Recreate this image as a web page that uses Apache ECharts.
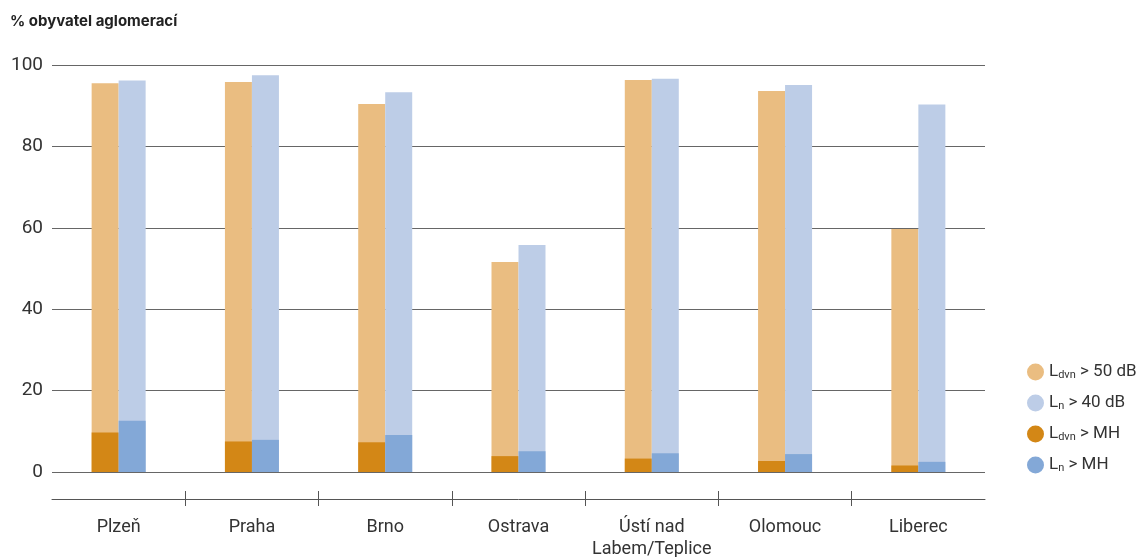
<!DOCTYPE html>
<html>
<head>
<meta charset="utf-8">
<script src="https://cdn.jsdelivr.net/npm/echarts@6/dist/echarts.min.js"></script>
<style>
  html, body { margin: 0; padding: 0; background: #fff; }
  #chart { width: 1146px; height: 557px; }
</style>
</head>
<body>
<div id="chart"></div>
<script>
// města (kategorie)
var categories = ['Plzeň', 'Praha', 'Brno', 'Ostrava', 'Ústí nad\nLabem/Teplice', 'Olomouc', 'Liberec'];
var legendNames = ['Ldvn > 50 dB', 'Ln > 40 dB', 'Ldvn > MH', 'Ln > MH'];
// % obyvatel
var ldvn50 = [95.5, 95.8, 90.4, 51.6, 96.3, 93.6, 59.7];
var ln40 = [96.2, 97.5, 93.3, 55.8, 96.6, 95.1, 90.3];
var ldvnMH = [9.7, 7.5, 7.3, 3.9, 3.3, 2.7, 1.6];
var lnMH = [12.6, 7.9, 9.1, 5.1, 4.6, 4.4, 2.5];
var yTicks = [0, 20, 40, 60, 80, 100];

var FONT = 'Roboto, "Noto Sans", sans-serif';
var colors = ['#EABD81', '#BDCDE7', '#D38716', '#83A8D7'];

function barSeries(name, data, axisIdx, color) {
  return {
    name: name,
    type: 'bar',
    xAxisIndex: axisIdx,
    yAxisIndex: 0,
    data: data,
    barWidth: 27,
    barGap: '0%',
    itemStyle: { color: color },
    emphasis: { disabled: true }
  };
}

var myChart = echarts.init(document.getElementById('chart'), null, { renderer: 'canvas' });
var option = {
  animation: false,
  title: {
    text: '% obyvatel aglomerací',
    left: 5,
    top: 9,
    textStyle: { fontFamily: 'Inter, sans-serif', fontSize: 15, fontWeight: 'bold', color: '#222' }
  },
  legend: {
    orient: 'vertical',
    left: 1022,
    top: 358,
    icon: 'circle',
    itemWidth: 17,
    itemHeight: 17,
    itemGap: 13,
    data: legendNames,
    formatter: function (name) {
      var m = name.match(/^L(dvn|n)(.*)$/);
      return '{a|L}{s|' + m[1] + '}{a|' + m[2] + '}';
    },
    textStyle: {
      fontFamily: FONT,
      color: '#333',
      rich: {
        a: { fontFamily: FONT, fontSize: 17, color: '#333', lineHeight: 19 },
        s: { fontFamily: FONT, fontSize: 11, color: '#333', lineHeight: 19, padding: [7, 0, 0, 0] }
      }
    }
  },
  grid: { left: 52, right: 161, top: 65, bottom: 85, containLabel: false, outerBoundsMode: 'none' },
  xAxis: [
    { type: 'category', data: categories, show: false },
    { type: 'category', data: categories, show: false },
    {
      type: 'value', min: 0, max: 7, position: 'bottom', offset: 27,
      splitLine: { show: false },
      axisLine: { show: true, lineStyle: { color: '#555', width: 1 } },
      axisTick: { show: true, inside: false, length: 7, customValues: [1, 2, 3, 4, 5, 6], lineStyle: { color: '#555' } },
      axisLabel: {
        customValues: [0.5, 1.5, 2.5, 3.5, 4.5, 5.5, 6.5],
        formatter: function (v) { return categories[Math.floor(v)]; },
        margin: 17,
        fontFamily: FONT, fontSize: 18, color: '#333', lineHeight: 22
      }
    },
    {
      type: 'value', min: 0, max: 7, position: 'bottom', offset: 27,
      splitLine: { show: false },
      axisLine: { show: false },
      axisTick: { show: true, inside: true, length: 8, customValues: [1, 2, 3, 4, 5, 6], lineStyle: { color: '#555' } },
      axisLabel: { show: false }
    }
  ],
  yAxis: [{
    type: 'value',
    min: yTicks[0],
    max: yTicks[yTicks.length - 1],
    interval: 20,
    axisLine: { show: false },
    axisTick: { show: false },
    axisLabel: { fontFamily: FONT, fontSize: 19, color: '#333', margin: 9 },
    splitLine: { show: true, lineStyle: { color: '#666', width: 1.2 } }
  }],
  series: [
    barSeries(legendNames[0], ldvn50, 0, colors[0]),
    barSeries(legendNames[1], ln40, 0, colors[1]),
    barSeries(legendNames[2], ldvnMH, 1, colors[2]),
    barSeries(legendNames[3], lnMH, 1, colors[3])
  ]
};
myChart.setOption(option);
window.onresize = myChart.resize;
</script>
</body>
</html>
